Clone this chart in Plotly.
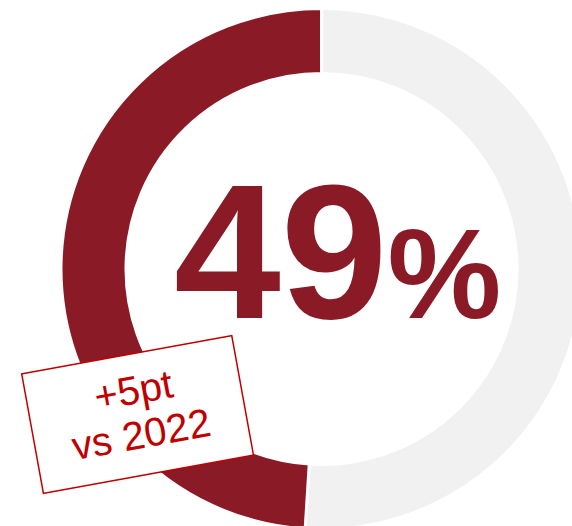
import math
import plotly.graph_objects as go

# ---- data ----
labels = ["Remainder", "2023 share"]
values = [51, 49]
slice_colors = ["#F1F1F1", "#8B1A27"]
headline_number = "49"
headline_unit = "%"
change_label = "+5pt"
compare_label = "vs 2022"

# ---- layout geometry (page is larger than the window; donut is cropped) ----
W, H = 643, 538
R_OUT = 260.5
R_IN = 195.5
dom_h = 2 * R_OUT / H
RED = "#8B1A27"
BOX_RED = "#C00000"
FONT = "Liberation Sans, Arial, sans-serif"

fig = go.Figure(
    go.Pie(
        labels=labels,
        values=values,
        hole=R_IN / R_OUT,
        sort=False,
        direction="counterclockwise",
        rotation=0,
        marker=dict(colors=slice_colors, line=dict(color="white", width=3)),
        textinfo="none",
        hoverinfo="skip",
        showlegend=False,
        domain=dict(x=[0, 1], y=[(1 - dom_h) / 2, (1 + dom_h) / 2]),
    )
)

# big headline
fig.add_annotation(
    x=337.5 / W, y=1 - 251 / H, xref="paper", yref="paper",
    xanchor="center", yanchor="middle", showarrow=False,
    text=f"<b>{headline_number}<span style='font-size:128px'>{headline_unit}</span></b>",
    font=dict(family=FONT, size=192, color=RED),
)

# tilted callout box
ANG = 10.3
cx, cy = 137.5, 414.0
fig.add_annotation(
    x=cx / W, y=1 - cy / H, xref="paper", yref="paper",
    xanchor="center", yanchor="middle", showarrow=False,
    text="&#160;",
    font=dict(family=FONT, size=10, color=BOX_RED),
    bgcolor="white", bordercolor=BOX_RED, borderwidth=1.5, borderpad=0,
    width=212, height=120, textangle=-ANG,
)

# two text lines inside the box, tighter line spacing than plotly's default
nx, ny = math.sin(math.radians(ANG)), math.cos(math.radians(ANG))
for txt, off in [(change_label, -24.0), (compare_label, 20.0)]:
    px_, py_ = cx + off * nx, cy + off * ny
    fig.add_annotation(
        x=px_ / W, y=1 - py_ / H, xref="paper", yref="paper",
        xanchor="center", yanchor="middle", showarrow=False,
        text=txt, textangle=-ANG,
        font=dict(family=FONT, size=40, color=BOX_RED),
    )

fig.update_layout(
    width=W, height=H,
    margin=dict(l=0, r=0, t=0, b=0),
    paper_bgcolor="white", plot_bgcolor="white",
)

fig.write_html(
    "out.html",
    config={"displayModeBar": False, "staticPlot": True},
    post_script="document.body.style.margin='0';document.body.style.overflow='hidden';document.documentElement.style.overflow='hidden';",
)
